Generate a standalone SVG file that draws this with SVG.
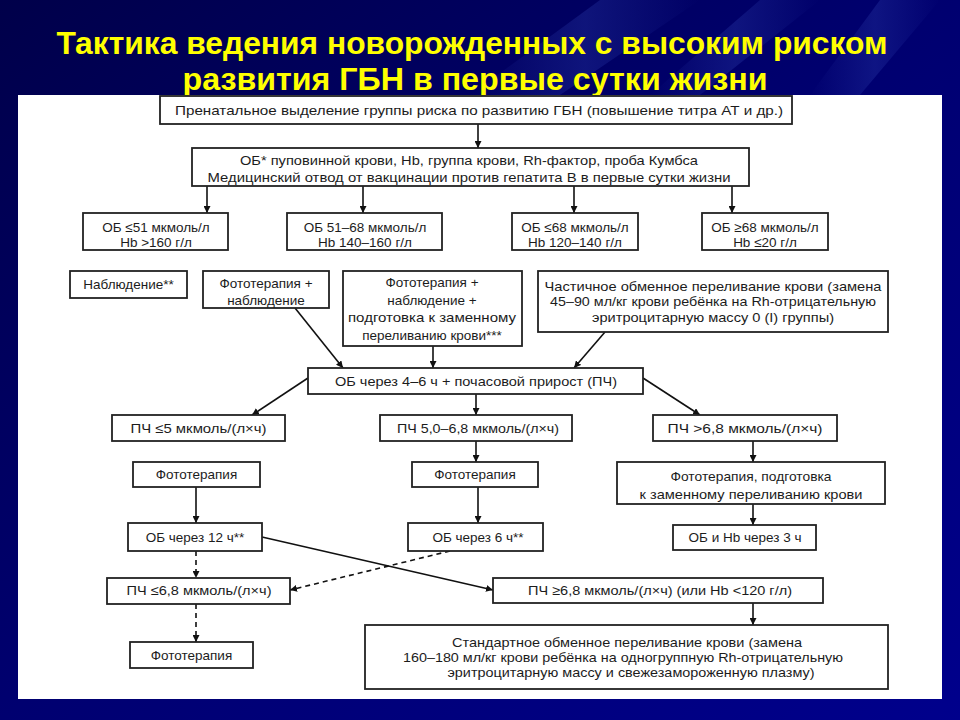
<svg xmlns="http://www.w3.org/2000/svg" width="960" height="720" viewBox="0 0 960 720">
<defs>
<linearGradient id="bg" x1="0" y1="0" x2="1" y2="1">
<stop offset="0" stop-color="#00004a"/>
<stop offset="0.5" stop-color="#000070"/>
<stop offset="1" stop-color="#00008c"/>
</linearGradient>
<linearGradient id="streak" x1="0" y1="0" x2="1" y2="0">
<stop offset="0" stop-color="#2a3aa8" stop-opacity="0"/>
<stop offset="0.5" stop-color="#2a3aa8" stop-opacity="0.35"/>
<stop offset="1" stop-color="#2a3aa8" stop-opacity="0"/>
</linearGradient>
<marker id="ah" viewBox="0 0 10 10" refX="10" refY="5" markerWidth="7" markerHeight="7" markerUnits="userSpaceOnUse" orient="auto">
<path d="M0,0 L10,5 L0,10 z" fill="#111"/>
</marker>
<style>
.box{fill:#fff;stroke:#222;stroke-width:1.8}
.t{font-family:"Liberation Sans",Arial,sans-serif;font-size:13.5px;fill:#1c1c1c;text-anchor:middle}
.title{font-family:"Liberation Sans",Arial,sans-serif;font-size:32px;font-weight:bold;fill:#ffff00;text-anchor:middle}
.c{stroke:#111;stroke-width:1.6;fill:none;marker-end:url(#ah)}
.d{stroke-dasharray:5,4}
</style>
</defs>
<rect x="0" y="0" width="960" height="720" fill="url(#bg)"/>
<polygon points="600,0 700,0 560,95 470,95" fill="url(#streak)"/>
<polygon points="760,0 820,0 700,95 650,95" fill="url(#streak)"/>
<polygon points="880,0 940,0 860,95 810,95" fill="url(#streak)"/>
<rect x="18" y="95" width="924" height="604" fill="#fff"/>
<g id="title">
<text class="title" x="472" y="54" textLength="831" lengthAdjust="spacingAndGlyphs">Тактика ведения новорожденных с высоким риском</text>
<text class="title" x="475" y="90" textLength="585" lengthAdjust="spacingAndGlyphs">развития ГБН в первые сутки жизни</text>
</g>
<g id="connectors">
<line class="c" x1="478" y1="124" x2="478" y2="148"/>
<line class="c" x1="207" y1="186" x2="207" y2="213"/>
<line class="c" x1="363" y1="186" x2="363" y2="213"/>
<line class="c" x1="574" y1="186" x2="574" y2="213"/>
<line class="c" x1="732" y1="186" x2="732" y2="213"/>
<line class="c" x1="295" y1="308" x2="343" y2="368"/>
<line class="c" x1="433" y1="346" x2="433" y2="368"/>
<line class="c" x1="605" y1="332" x2="574" y2="368"/>
<line class="c" x1="308" y1="378" x2="252" y2="415"/>
<line class="c" x1="476" y1="394" x2="476" y2="415"/>
<line class="c" x1="643" y1="378" x2="700" y2="415"/>
<line class="c" x1="476" y1="441" x2="476" y2="462"/>
<line class="c" x1="753" y1="441" x2="753" y2="462"/>
<line class="c" x1="196" y1="487" x2="196" y2="523"/>
<line class="c" x1="478" y1="487" x2="478" y2="523"/>
<line class="c" x1="753" y1="504" x2="753" y2="525"/>
<line class="c" x1="262" y1="537" x2="493" y2="590"/>
<line class="c d" x1="450" y1="551" x2="290" y2="590"/>
<line class="c d" x1="196" y1="551" x2="196" y2="578"/>
<line class="c d" x1="196" y1="604" x2="196" y2="642"/>
<line class="c" x1="753" y1="603" x2="753" y2="625"/>
</g>
<g id="n1">
<rect class="box" x="160" y="96" width="632" height="28"/>
<text class="t" x="479" y="114.5" textLength="608" lengthAdjust="spacingAndGlyphs">Пренатальное выделение группы риска по развитию ГБН (повышение титра АТ  и др.)</text>
</g>
<g id="n2">
<rect class="box" x="192" y="148" width="557" height="38"/>
<text class="t" x="469" y="164.5" textLength="458" lengthAdjust="spacingAndGlyphs">ОБ* пуповинной крови, Hb, группа крови, Rh-фактор, проба Кумбса</text>
<text class="t" x="469" y="181.5" textLength="523" lengthAdjust="spacingAndGlyphs">Медицинский отвод от вакцинации против гепатита В в первые сутки жизни</text>
</g>
<g id="n3a">
<rect class="box" x="83" y="213" width="145" height="37"/>
<text class="t" x="156" y="231.5">ОБ ≤51 мкмоль/л</text>
<text class="t" x="156" y="246.5">Hb &gt;160 г/л</text>
</g>
<g id="n3b">
<rect class="box" x="287" y="213" width="155" height="37"/>
<text class="t" x="365" y="231.5">ОБ 51–68 мкмоль/л</text>
<text class="t" x="365" y="246.5">Hb 140–160 г/л</text>
</g>
<g id="n3c">
<rect class="box" x="512" y="213" width="126" height="37"/>
<text class="t" x="575" y="231.5">ОБ ≤68 мкмоль/л</text>
<text class="t" x="575" y="246.5">Hb 120–140 г/л</text>
</g>
<g id="n3d">
<rect class="box" x="702" y="213" width="126" height="37"/>
<text class="t" x="765" y="231.5">ОБ ≥68 мкмоль/л</text>
<text class="t" x="765" y="246.5">Hb ≤20 г/л</text>
</g>
<g id="n4a">
<rect class="box" x="70" y="271" width="117" height="27"/>
<text class="t" x="128.5" y="288.5">Наблюдение**</text>
</g>
<g id="n4b">
<rect class="box" x="203" y="271" width="126" height="37"/>
<text class="t" x="266" y="287.5">Фототерапия +</text>
<text class="t" x="266" y="304.5">наблюдение</text>
</g>
<g id="n4c">
<rect class="box" x="343" y="271" width="179" height="75"/>
<text class="t" x="432" y="287">Фототерапия +</text>
<text class="t" x="432" y="304.5">наблюдение +</text>
<text class="t" x="432" y="322" textLength="168" lengthAdjust="spacingAndGlyphs">подготовка к заменному</text>
<text class="t" x="432" y="339.5">переливанию крови***</text>
</g>
<g id="n4d">
<rect class="box" x="538" y="271" width="350" height="61"/>
<text class="t" x="713" y="290.5" textLength="337" lengthAdjust="spacingAndGlyphs">Частичное обменное переливание крови (замена</text>
<text class="t" x="713" y="306" textLength="326" lengthAdjust="spacingAndGlyphs">45–90 мл/кг крови ребёнка на Rh-отрицательную</text>
<text class="t" x="713" y="321.5" textLength="242" lengthAdjust="spacingAndGlyphs">эритроцитарную массу 0 (I) группы)</text>
</g>
<g id="n5">
<rect class="box" x="308" y="368" width="335" height="26"/>
<text class="t" x="476" y="385.5" textLength="282" lengthAdjust="spacingAndGlyphs">ОБ через 4–6 ч + почасовой прирост (ПЧ)</text>
</g>
<g id="n6a">
<rect class="box" x="112" y="415" width="173" height="26"/>
<text class="t" x="198.5" y="432.5" textLength="136" lengthAdjust="spacingAndGlyphs">ПЧ ≤5 мкмоль/(л×ч)</text>
</g>
<g id="n6b">
<rect class="box" x="380" y="415" width="192" height="26"/>
<text class="t" x="478" y="432.5" textLength="162" lengthAdjust="spacingAndGlyphs">ПЧ 5,0–6,8 мкмоль/(л×ч)</text>
</g>
<g id="n6c">
<rect class="box" x="653" y="415" width="184" height="26"/>
<text class="t" x="745" y="432.5" textLength="155" lengthAdjust="spacingAndGlyphs">ПЧ &gt;6,8 мкмоль/(л×ч)</text>
</g>
<g id="n7a">
<rect class="box" x="133" y="462" width="127" height="25"/>
<text class="t" x="196.5" y="479">Фототерапия</text>
</g>
<g id="n7b">
<rect class="box" x="412" y="462" width="126" height="25"/>
<text class="t" x="475" y="479">Фототерапия</text>
</g>
<g id="n7c">
<rect class="box" x="617" y="462" width="268" height="42"/>
<text class="t" x="751" y="480.5" textLength="161" lengthAdjust="spacingAndGlyphs">Фототерапия, подготовка</text>
<text class="t" x="751" y="498.5" textLength="223" lengthAdjust="spacingAndGlyphs">к заменному переливанию крови</text>
</g>
<g id="n8a">
<rect class="box" x="128" y="523" width="134" height="28"/>
<text class="t" x="195" y="541.5">ОБ через 12 ч**</text>
</g>
<g id="n8b">
<rect class="box" x="408" y="523" width="135" height="28"/>
<text class="t" x="478" y="541.5">ОБ через 6 ч**</text>
</g>
<g id="n8c">
<rect class="box" x="673" y="525" width="143" height="25"/>
<text class="t" x="745" y="542">ОБ и Hb через 3 ч</text>
</g>
<g id="n9a">
<rect class="box" x="107" y="578" width="183" height="26"/>
<text class="t" x="199" y="595" textLength="145" lengthAdjust="spacingAndGlyphs">ПЧ ≤6,8 мкмоль/(л×ч)</text>
</g>
<g id="n9b">
<rect class="box" x="493" y="578" width="330" height="25"/>
<text class="t" x="660" y="594.5" textLength="264" lengthAdjust="spacingAndGlyphs">ПЧ ≥6,8 мкмоль/(л×ч) (или Hb &lt;120 г/л)</text>
</g>
<g id="n10a">
<rect class="box" x="130" y="642" width="123" height="26"/>
<text class="t" x="191.5" y="659.5">Фототерапия</text>
</g>
<g id="n10b">
<rect class="box" x="365" y="625" width="523" height="64"/>
<text class="t" x="627" y="646.5" textLength="350" lengthAdjust="spacingAndGlyphs">Стандартное обменное переливание крови (замена</text>
<text class="t" x="623" y="661.5" textLength="440" lengthAdjust="spacingAndGlyphs">160–180 мл/кг крови ребёнка на одногруппную Rh-отрицательную</text>
<text class="t" x="631" y="676.5" textLength="367" lengthAdjust="spacingAndGlyphs">эритроцитарную массу и свежезамороженную плазму)</text>
</g>
</svg>
